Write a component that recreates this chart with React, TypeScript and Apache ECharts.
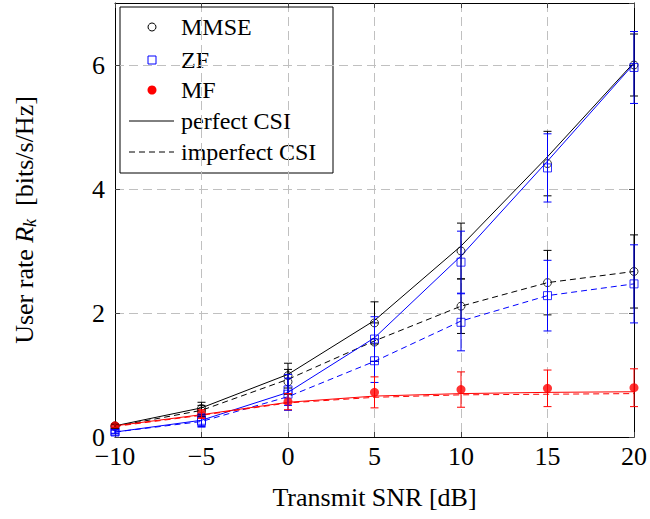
import React, { useEffect, useRef } from "react";
import * as echarts from "echarts";

const snr = [-10, -5, 0, 5, 10, 15, 20];

// theoretical curves
const mmsePerfectLine = [0.18, 0.47, 1.01, 1.88, 3.08, 4.52, 6.04];
const mmseImperfectLine = [0.17, 0.43, 0.93, 1.55, 2.11, 2.49, 2.67];
const zfPerfectLine = [0.08, 0.27, 0.72, 1.6, 2.92, 4.45, 6.02];
const zfImperfectLine = [0.08, 0.25, 0.65, 1.22, 1.87, 2.28, 2.47];
const mfPerfectLine = [0.18, 0.36, 0.56, 0.66, 0.7, 0.72, 0.73];
const mfImperfectLine = [0.17, 0.35, 0.55, 0.64, 0.68, 0.69, 0.7];

// simulated points with error half-widths
const mmsePerfectSim = [0.18, 0.46, 0.99, 1.84, 3.0, 4.41, 6.0];
const mmsePerfectErr = [0.03, 0.1, 0.2, 0.34, 0.45, 0.52, 0.5];
const mmseImperfectSim = [0.17, 0.42, 0.89, 1.53, 2.11, 2.49, 2.67];
const mmseImperfectErr = [0.03, 0.09, 0.2, 0.31, 0.44, 0.52, 0.59];
const zfPerfectSim = [0.09, 0.27, 0.76, 1.58, 2.82, 4.34, 5.96];
const zfPerfectErr = [0.03, 0.1, 0.25, 0.36, 0.5, 0.55, 0.58];
const zfImperfectSim = [0.08, 0.25, 0.69, 1.23, 1.85, 2.28, 2.47];
const zfImperfectErr = [0.03, 0.09, 0.26, 0.35, 0.46, 0.57, 0.63];
const mfSim = [0.18, 0.37, 0.57, 0.72, 0.765, 0.785, 0.795];
const mfErr = [0.03, 0.07, 0.13, 0.25, 0.285, 0.295, 0.305];

const xTicks = [-10, -5, 0, 5, 10, 15, 20];
const yTicks = [0, 2, 4, 6];

const FONT = "'Liberation Serif', 'Times New Roman', serif";
const BLACK = "#000000";
const BLUE = "#0000ff";
const RED = "#ff0000";

const pairs = (ys: number[]) => snr.map((x, i) => [x, ys[i]]);
const triples = (ys: number[], es: number[]) => snr.map((x, i) => [x, ys[i], es[i]]);

function lineSeries(name: string, ys: number[], color: string, dashed: boolean) {
  return {
    name,
    type: "line",
    data: pairs(ys),
    symbol: "none",
    lineStyle: { color, width: 1, type: dashed ? [6, 4] : "solid" },
    z: 3,
    silent: true,
  };
}

function markerSeries(name: string, ys: number[], color: string, symbol: string, filled: boolean, size: number) {
  return {
    name,
    type: "scatter",
    data: pairs(ys),
    symbol,
    symbolSize: size,
    itemStyle: filled
      ? { color, borderWidth: 0 }
      : { color: "rgba(255,255,255,0)", borderColor: color, borderWidth: 1 },
    z: 4,
    silent: true,
  };
}

function errorSeries(name: string, ys: number[], es: number[], color: string) {
  return {
    name,
    type: "custom",
    data: triples(ys, es),
    encode: { x: 0, y: 1 },
    z: 5,
    silent: true,
    renderItem: (params: any, api: any) => {
      const x = api.value(0);
      const y = api.value(1);
      const e = api.value(2);
      const top = api.coord([x, y + e]);
      const bot = api.coord([x, y - e]);
      const style = { stroke: color, lineWidth: 1, fill: null };
      const w = 4;
      return {
        type: "group",
        children: [
          { type: "line", shape: { x1: top[0], y1: top[1], x2: bot[0], y2: bot[1] }, style },
          { type: "line", shape: { x1: top[0] - w, y1: top[1], x2: top[0] + w, y2: top[1] }, style },
          { type: "line", shape: { x1: bot[0] - w, y1: bot[1], x2: bot[0] + w, y2: bot[1] }, style },
        ],
      };
    },
  };
}

function legendGraphic() {
  const left = 120;
  const top = 7;
  const w = 213;
  const h = 166;
  const symX = 152;
  const textX = 181;
  const rows = [27, 60, 90, 121, 152];
  const txt = (y: number, s: string) => ({
    type: "text",
    x: textX,
    y,
    style: { text: s, font: `24px ${FONT}`, fill: BLACK, verticalAlign: "middle", align: "left" },
  });
  return {
    type: "group",
    z: 100,
    children: [
      {
        type: "rect",
        shape: { x: left, y: top, width: w, height: h },
        style: { fill: "#ffffff", stroke: BLACK, lineWidth: 1 },
      },
      { type: "circle", shape: { cx: symX, cy: rows[0], r: 4 }, style: { fill: "none", stroke: BLACK, lineWidth: 1 } },
      txt(rows[0], "MMSE"),
      { type: "rect", shape: { x: symX - 4, y: rows[1] - 4, width: 8, height: 8 }, style: { fill: "none", stroke: BLUE, lineWidth: 1 } },
      txt(rows[1], "ZF"),
      { type: "circle", shape: { cx: symX, cy: rows[2], r: 4.5 }, style: { fill: RED } },
      txt(rows[2], "MF"),
      { type: "line", shape: { x1: 129, y1: rows[3], x2: 174, y2: rows[3] }, style: { stroke: BLACK, lineWidth: 1 } },
      txt(rows[3], "perfect CSI"),
      { type: "line", shape: { x1: 129, y1: rows[4], x2: 174, y2: rows[4] }, style: { stroke: BLACK, lineWidth: 1, lineDash: [6, 4] } },
      txt(rows[4], "imperfect CSI"),
    ],
  };
}

export default function App() {
  const ref = useRef<HTMLDivElement>(null);
  useEffect(() => {
    document.body.style.margin = "0";
    if (!ref.current) return;
    const chart = echarts.init(ref.current, null, { renderer: "svg" });
    const axisLine = { show: true, onZero: false, lineStyle: { color: BLACK, width: 1 } };
    const tick = { show: true, inside: true, length: 5, lineStyle: { color: "#444" } };
    const split = { show: true, lineStyle: { color: "#c0c0c0", width: 1, type: [9, 5] } };
    chart.setOption({
      animation: false,
      backgroundColor: "#ffffff",
      grid: { left: 115, right: 12, top: 3, bottom: 82, containLabel: false },
      xAxis: [
        {
          type: "value",
          min: -10,
          max: 20,
          interval: 5,
          position: "bottom",
          axisLine,
          axisTick: tick,
          splitLine: split,
          axisLabel: {
            fontFamily: FONT,
            fontSize: 26,
            lineHeight: 18,
            color: BLACK,
            margin: 10,
            formatter: (v: number) => (xTicks.includes(v) ? String(v).replace("-", "\u2212") : ""),
          },
          name: "Transmit SNR [dB]",
          nameLocation: "middle",
          nameGap: 47,
          nameTextStyle: { fontFamily: FONT, fontSize: 26, color: BLACK },
        },
        {
          type: "value",
          min: -10,
          max: 20,
          interval: 5,
          position: "top",
          axisLine,
          axisTick: tick,
          splitLine: { show: false },
          axisLabel: { show: false },
        },
      ],
      yAxis: [
        {
          type: "value",
          min: 0,
          max: 7,
          interval: 2,
          position: "left",
          axisLine,
          axisTick: tick,
          splitLine: split,
          axisLabel: {
            fontFamily: FONT,
            fontSize: 26,
            lineHeight: 18,
            color: BLACK,
            margin: 10,
            showMaxLabel: false,
            formatter: (v: number) => (yTicks.includes(v) ? String(v) : ""),
          },
          name: "{n|User rate }{i|R}{s|k}{n|  [bits/s/Hz]}",
          nameLocation: "middle",
          nameGap: 76,
          nameRotate: 90,
          nameTextStyle: {
            fontFamily: FONT,
            fontSize: 26,
            color: BLACK,
            rich: {
              n: { fontFamily: FONT, fontSize: 26, color: BLACK, lineHeight: 30 },
              i: { fontFamily: FONT, fontSize: 26, fontStyle: "italic", color: BLACK, lineHeight: 30 },
              s: { fontFamily: FONT, fontSize: 18, fontStyle: "italic", color: BLACK, lineHeight: 30, verticalAlign: "bottom", padding: [10, 0, 0, 0] },
            },
          },
        },
        {
          type: "value",
          min: 0,
          max: 7,
          interval: 2,
          position: "right",
          axisLine,
          axisTick: tick,
          splitLine: { show: false },
          axisLabel: { show: false },
        },
      ],
      series: [
        lineSeries("MMSE perfect", mmsePerfectLine, BLACK, false),
        lineSeries("MMSE imperfect", mmseImperfectLine, BLACK, true),
        lineSeries("ZF perfect", zfPerfectLine, BLUE, false),
        lineSeries("ZF imperfect", zfImperfectLine, BLUE, true),
        lineSeries("MF perfect", mfPerfectLine, RED, false),
        lineSeries("MF imperfect", mfImperfectLine, RED, true),
        markerSeries("MMSE perfect sim", mmsePerfectSim, BLACK, "circle", false, 8),
        markerSeries("MMSE imperfect sim", mmseImperfectSim, BLACK, "circle", false, 8),
        markerSeries("ZF perfect sim", zfPerfectSim, BLUE, "rect", false, 8),
        markerSeries("ZF imperfect sim", zfImperfectSim, BLUE, "rect", false, 8),
        markerSeries("MF sim", mfSim, RED, "circle", true, 9),
        errorSeries("MMSE perfect err", mmsePerfectSim, mmsePerfectErr, BLACK),
        errorSeries("MMSE imperfect err", mmseImperfectSim, mmseImperfectErr, BLACK),
        errorSeries("ZF perfect err", zfPerfectSim, zfPerfectErr, BLUE),
        errorSeries("ZF imperfect err", zfImperfectSim, zfImperfectErr, BLUE),
        errorSeries("MF err", mfSim, mfErr, RED),
      ],
      graphic: [legendGraphic()],
    });
    return () => chart.dispose();
  }, []);
  return <div ref={ref} style={{ width: 650, height: 519 }} />;
}
